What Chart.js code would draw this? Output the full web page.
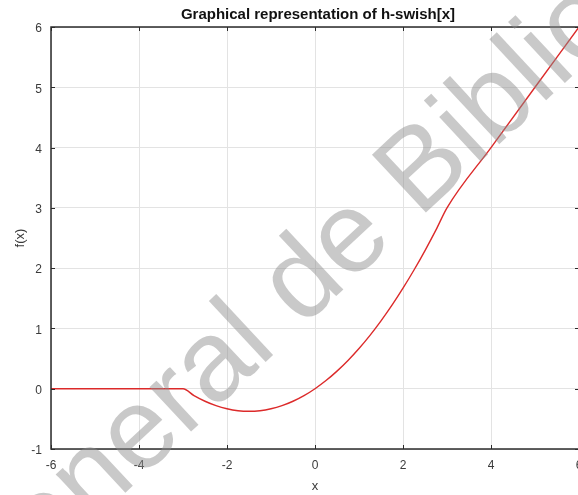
<!DOCTYPE html>
<html>
<head>
<meta charset="utf-8">
<script src="https://cdn.jsdelivr.net/npm/chart.js@4.4.1/dist/chart.umd.min.js"></script>
<style>
  html, body { margin: 0; padding: 0; background: #fff; overflow: hidden; }
  canvas { display: block; }
</style>
</head>
<body>
<canvas id="hswish" width="582" height="495"></canvas>
<script>
/* ── h-swish samples (x, f(x)) ── */
const X_VALUES = [
  -6, -5, -4, -3, -2.75, -2.5, -2.25, -2, -1.75, -1.5, -1.25, -1, -0.75, -0.5, -0.25,
  0, 0.25, 0.5, 0.75, 1, 1.25, 1.5, 1.75, 2, 2.25, 2.5, 2.75, 3, 4, 5, 6
];
const F_VALUES = [
  0, 0, 0, 0, -0.115, -0.208, -0.281, -0.333, -0.365, -0.375, -0.365, -0.333, -0.281, -0.208, -0.115,
  0, 0.135, 0.292, 0.469, 0.667, 0.885, 1.125, 1.385, 1.667, 1.969, 2.292, 2.635, 3, 4, 5, 6
];

/* ── Axis ticks ── */
const X_TICKS = [-6, -4, -2, 0, 2, 4, 6];
const Y_TICKS = [-1, 0, 1, 2, 3, 4, 5, 6];

const TITLE   = 'Graphical representation of h-swish[x]';
const X_LABEL = 'x';
const Y_LABEL = 'f(x)';
const STAMP   = 'Dirección General de Bibliotecas';

const FONT   = "'Liberation Sans', Arial, sans-serif";
const AXIS   = '#2b2b2b';
const GRID   = '#e3e3e3';
const LINE   = '#dc2a2a';

/* ── Title above the plot box ── */
const titlePlugin = {
  id: 'plotTitle',
  afterDraw(chart) {
    const { ctx, chartArea: a } = chart;
    ctx.save();
    ctx.font = `bold 15px ${FONT}`;
    ctx.fillStyle = '#111';
    ctx.textAlign = 'center';
    ctx.textBaseline = 'alphabetic';
    ctx.fillText(TITLE, (a.left + a.right) / 2 + 3, 19);
    ctx.restore();
  }
};

/* ── Box frame plus inward tick marks ── */
const framePlugin = {
  id: 'frame',
  afterDatasetsDraw(chart) {
    const { ctx, chartArea: a, scales: { x, y } } = chart;
    ctx.save();
    ctx.strokeStyle = AXIS;
    ctx.lineWidth = 1.5;
    ctx.strokeRect(a.left, a.top, a.right - a.left, a.bottom - a.top);
    ctx.lineWidth = 1;
    ctx.beginPath();
    X_TICKS.forEach(v => {
      const px = Math.round(x.getPixelForValue(v)) + 0.5;
      ctx.moveTo(px, a.bottom); ctx.lineTo(px, a.bottom - 4);
      ctx.moveTo(px, a.top);    ctx.lineTo(px, a.top + 4);
    });
    Y_TICKS.forEach(v => {
      const py = Math.round(y.getPixelForValue(v)) + 0.5;
      ctx.moveTo(a.left, py);  ctx.lineTo(a.left + 4, py);
      ctx.moveTo(a.right, py); ctx.lineTo(a.right - 4, py);
    });
    ctx.stroke();
    ctx.restore();
  }
};

/* ── Faint diagonal library stamp ── */
const stampPlugin = {
  id: 'stamp',
  afterDraw(chart) {
    const { ctx } = chart;
    ctx.save();
    ctx.font = `115px ${FONT}`;
    ctx.fillStyle = 'rgba(140,140,140,0.47)';
    ctx.textBaseline = 'alphabetic';
    ctx.translate(302, 328);
    ctx.rotate(-43 * Math.PI / 180);
    const lead = ctx.measureText('Dirección General ').width;
    ctx.fillText(STAMP, -lead, 0);
    ctx.restore();
  }
};

new Chart(document.getElementById('hswish'), {
  type: 'line',
  data: {
    datasets: [{
      data: X_VALUES.map((v, i) => ({ x: v, y: F_VALUES[i] })),
      borderColor: LINE,
      borderWidth: 1.4,
      pointRadius: 0,
      cubicInterpolationMode: 'monotone',
      fill: false,
    }]
  },
  options: {
    responsive: false,
    animation: false,
    layout: { padding: { top: 27, right: 3, left: 0, bottom: 0 } },
    plugins: { legend: { display: false }, tooltip: { enabled: false }, title: { display: false } },
    scales: {
      x: {
        type: 'linear', min: -6, max: 6,
        afterBuildTicks: s => { s.ticks = X_TICKS.map(v => ({ value: v })); },
        afterFit: s => { s.height = 46; s.paddingLeft = 0; s.paddingRight = 0; },
        grid: { color: GRID, drawTicks: false },
        border: { display: false },
        ticks: { color: '#3a3a3a', font: { family: FONT, size: 12 }, padding: 9, maxRotation: 0 },
        title: { display: true, text: X_LABEL, color: '#3a3a3a',
                 font: { family: FONT, size: 13 }, padding: { top: 0, bottom: 1 } },
      },
      y: {
        type: 'linear', min: -1, max: 6,
        afterBuildTicks: s => { s.ticks = Y_TICKS.map(v => ({ value: v })); },
        afterFit: s => { s.width = 51; s.paddingTop = 0; s.paddingBottom = 0; },
        grid: { color: GRID, drawTicks: false },
        border: { display: false },
        ticks: { color: '#3a3a3a', font: { family: FONT, size: 12 }, padding: 9, labelOffset: 2 },
        title: { display: true, text: Y_LABEL, color: '#3a3a3a',
                 font: { family: FONT, size: 13 }, padding: { top: 13, bottom: 0 } },
      }
    }
  },
  plugins: [titlePlugin, framePlugin, stampPlugin]
});
</script>
</body>
</html>
